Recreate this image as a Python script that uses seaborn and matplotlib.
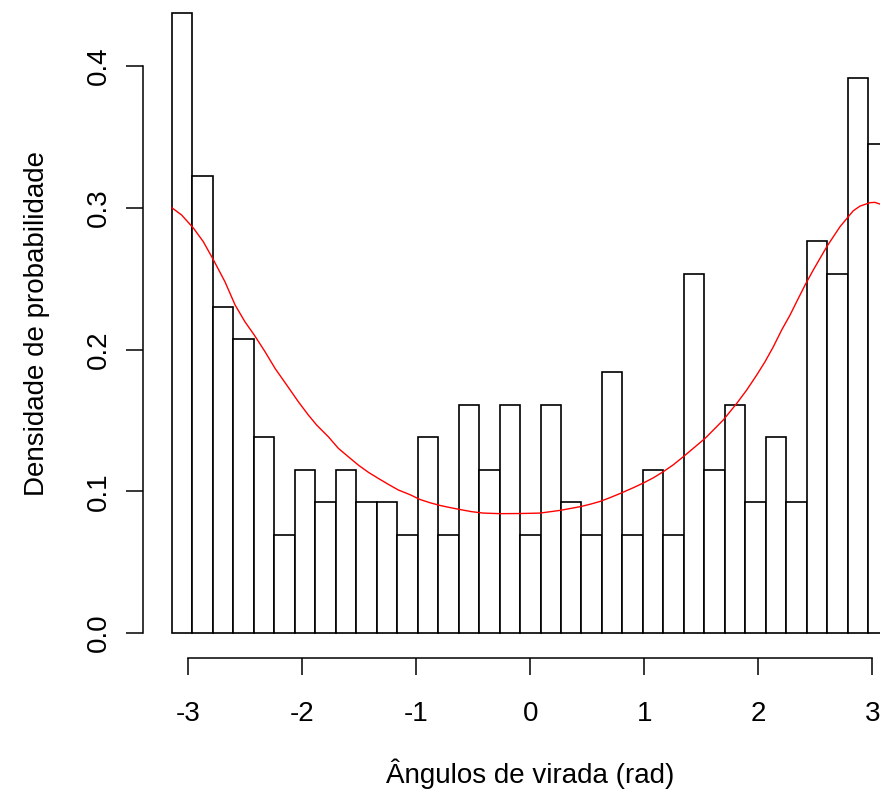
import numpy as np
import pandas as pd
import matplotlib
matplotlib.use("Agg")
import matplotlib.pyplot as plt
import seaborn as sns

# Turning-angle counts in 35 equal bins spanning (-pi, pi]
bin_counts = [19, 14, 10, 9, 6, 3, 5, 4, 5, 4, 4, 3, 6, 3, 7, 5, 7, 3,
              7, 4, 3, 8, 3, 5, 3, 11, 5, 7, 4, 6, 4, 12, 11, 17, 15]
n_bins = len(bin_counts)

# Fitted circular density (angle in rad, density)
curve_angle = [-3.142, -3.057, -2.952, -2.867, -2.777, -2.677, -2.588, -2.502,
               -2.420, -2.326, -2.238, -2.136, -2.034, -1.946, -1.873, -1.771,
               -1.683, -1.596, -1.508, -1.420, -1.333, -1.245, -1.157, -1.055,
               -0.967, -0.879, -0.792, -0.704, -0.616, -0.514, -0.412, -0.266,
               -0.090, 0.085, 0.260, 0.348, 0.436, 0.523, 0.611, 0.699,
               0.787, 0.903, 0.991, 1.079, 1.166, 1.254, 1.342, 1.429,
               1.532, 1.605, 1.692, 1.810, 1.897, 1.985, 2.058, 2.131,
               2.204, 2.277, 2.350, 2.409, 2.481, 2.540, 2.599, 2.657,
               2.715, 2.788, 2.832, 2.891, 2.979, 3.022, 3.066, 3.142]
curve_density = [0.3000, 0.2949, 0.2855, 0.2761, 0.2631, 0.2478, 0.2314, 0.2196,
                 0.2102, 0.1985, 0.1867, 0.1750, 0.1632, 0.1538, 0.1467, 0.1385,
                 0.1303, 0.1244, 0.1185, 0.1134, 0.1091, 0.1049, 0.1009, 0.0976,
                 0.0942, 0.0919, 0.0900, 0.0885, 0.0871, 0.0856, 0.0846, 0.0842,
                 0.0843, 0.0846, 0.0865, 0.0878, 0.0891, 0.0908, 0.0928, 0.0955,
                 0.0984, 0.1025, 0.1058, 0.1095, 0.1138, 0.1187, 0.1244, 0.1303,
                 0.1373, 0.1432, 0.1503, 0.1620, 0.1714, 0.1820, 0.1914, 0.2020,
                 0.2138, 0.2243, 0.2361, 0.2455, 0.2561, 0.2643, 0.2725, 0.2796,
                 0.2866, 0.2937, 0.2979, 0.3012, 0.3036, 0.3038, 0.3026, 0.3003]

x_ticks = [-3, -2, -1, 0, 1, 2, 3]
y_ticks = [0.0, 0.1, 0.2, 0.3, 0.4]
x_label = "Ângulos de virada (rad)"
y_label = "Densidade de probabilidade"

sns.set_style("ticks")
plt.rcParams["font.family"] = ["Liberation Sans", "DejaVu Sans"]
plt.rcParams["axes.unicode_minus"] = False
plt.rcParams["text.color"] = "black"
plt.rcParams["axes.labelcolor"] = "black"

lo, hi = -np.pi, np.pi
width = (hi - lo) / n_bins
hist_df = pd.DataFrame({"angle": lo + width * (np.arange(n_bins) + 0.5),
                        "count": bin_counts})
curve_df = pd.DataFrame({"angle": curve_angle, "density": curve_density})

W, H = 880, 795
fig = plt.figure(figsize=(W / 100, H / 100), dpi=100)
fig.patch.set_facecolor("white")
ax = fig.add_axes([143.3 / W, (H - 657.8) / H, 774 / W, 669.5 / H])

sns.histplot(data=hist_df, x="angle", weights="count", bins=n_bins,
             binrange=(lo, hi), stat="density", fill=True, color="white",
             edgecolor="black", linewidth=1.2, alpha=1, ax=ax)
sns.lineplot(data=curve_df, x="angle", y="density", color="red",
             linewidth=1.0, estimator=None, sort=True, ax=ax)

# R-style 4% padding around the data range
x_span = hi - lo
ax.set_xlim(lo - 0.04 * x_span, hi + 0.04 * x_span)
dens_max = max(bin_counts) / (sum(bin_counts) * width)
ax.set_ylim(-0.04 * dens_max, 1.04 * dens_max)

for side in ("top", "right"):
    ax.spines[side].set_visible(False)
ax.spines["left"].set_bounds(y_ticks[0], y_ticks[-1])
ax.spines["bottom"].set_bounds(x_ticks[0], x_ticks[-1])
for side in ("left", "bottom"):
    ax.spines[side].set_linewidth(1.1)
    ax.spines[side].set_color("black")

ax.set_xticks(x_ticks)
ax.set_xticklabels([str(t) for t in x_ticks])
ax.set_yticks(y_ticks)
ax.set_yticklabels([f"{t:.1f}" for t in y_ticks])
ax.tick_params(axis="both", direction="out", length=11.9, width=1.1,
               colors="black", labelsize=20, bottom=True, left=True,
               top=False, right=False)
ax.tick_params(axis="x", pad=19)
ax.tick_params(axis="y", pad=10.6, labelrotation=90)
for lab in ax.get_yticklabels():
    lab.set_va("center")

ax.set_xlabel(x_label, fontsize=20, va="center", color="black")
ax.set_ylabel(y_label, fontsize=20, va="center", color="black")
ax.xaxis.set_label_coords(0.5, (657.8 - 774) / 669.5)
ax.yaxis.set_label_coords((37 - 143.3) / 774, 0.5)
ax.grid(False)

fig.savefig("out.png", dpi=100)
